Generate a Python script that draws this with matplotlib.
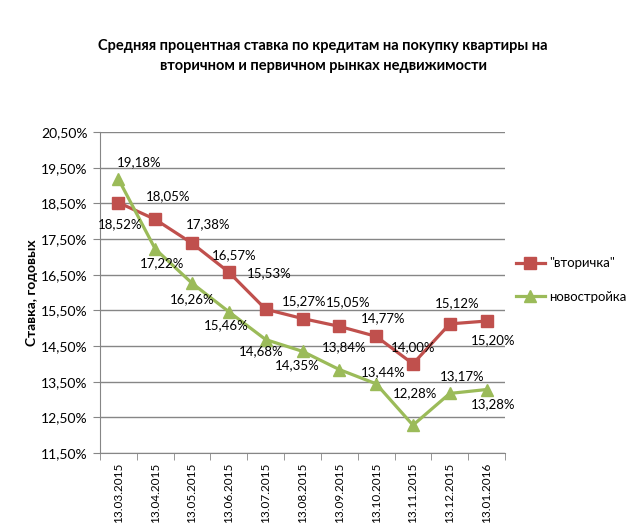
import matplotlib
matplotlib.use("Agg")
import matplotlib.pyplot as plt
from matplotlib.ticker import FuncFormatter, FixedLocator

plt.rcParams['font.family'] = ['Lato', 'DejaVu Sans']

dates = ['13.03.2015', '13.04.2015', '13.05.2015', '13.06.2015', '13.07.2015', '13.08.2015',
         '13.09.2015', '13.10.2015', '13.11.2015', '13.12.2015', '13.01.2016']
secondary = [18.52, 18.05, 17.38, 16.57, 15.53, 15.27, 15.05, 14.77, 14.00, 15.12, 15.20]
new_build = [19.18, 17.22, 16.26, 15.46, 14.68, 14.35, 13.84, 13.44, 12.28, 13.17, 13.28]

# label offsets in pixels (dx, dy)
sec_off = [(2, -22), (13, 23), (16, 19), (5, 17), (4, 36), (2, 17), (9, 24), (7, 18), (0, 17), (7, 21), (7, -19)]
new_off = [(21, 17), (7, -14), (0, -16), (-3, -13), (-5, -12), (-5, -14), (5, 22), (7, 12), (2, 32), (12, 17), (7, -15)]

red = '#C0504D'
green = '#9BBB59'

fig = plt.figure(figsize=(6.36, 5.32), dpi=100)
ax = fig.add_axes([100 / 636, 79 / 532, 405 / 636, 321 / 532])

x = list(range(len(dates)))
l1, = ax.plot(x, secondary, color=red, lw=2.3, marker='s', ms=8, label='"вторичка"', zorder=3)
l2, = ax.plot(x, new_build, color=green, lw=2.3, marker='^', ms=9, label='новостройка', zorder=3)

for xi, v, (dx, dy) in zip(x, secondary, sec_off):
    ax.annotate(f'{v:.2f}%'.replace('.', ','), (xi, v), xytext=(dx, dy), textcoords='offset pixels',
                ha='center', va='center', fontsize=9.5)
for xi, v, (dx, dy) in zip(x, new_build, new_off):
    ax.annotate(f'{v:.2f}%'.replace('.', ','), (xi, v), xytext=(dx, dy), textcoords='offset pixels',
                ha='center', va='center', fontsize=9.5)

ax.set_xlim(-0.5, len(dates) - 0.5)
ax.set_ylim(11.5, 20.5)
ax.set_yticks([11.5 + i for i in range(10)])
ax.yaxis.set_major_formatter(FuncFormatter(lambda v, p: f'{v:.2f}%'.replace('.', ',')))
ax.grid(axis='y', color='#868686', lw=1)
ax.set_axisbelow(True)

ax.set_xticks(x)
ax.set_xticklabels(dates, rotation=90, fontsize=8.5)
ax.tick_params(axis='x', which='major', length=0, pad=7)
ax.xaxis.set_minor_locator(FixedLocator([i - 0.5 for i in range(len(dates) + 1)]))
ax.tick_params(axis='x', which='minor', length=5, color='#868686')
ax.tick_params(axis='y', labelsize=10, length=5, color='#868686', pad=4)

for s in ['top', 'right']:
    ax.spines[s].set_visible(False)
for s in ['left', 'bottom']:
    ax.spines[s].set_color('#868686')

ax.set_ylabel('Ставка, годовых', fontsize=10, fontweight='bold', labelpad=2)

fig.text(0.508, 0.895, 'Средняя процентная ставка по кредитам на покупку квартиры на\nвторичном и первичном рынках недвижимости',
         ha='center', va='center', fontsize=10.5, fontweight='bold', linespacing=1.5)

fig.legend(handles=[l1, l2], loc='center left', bbox_to_anchor=(504 / 636, 1 - 280 / 532),
           frameon=False, fontsize=9.5, handlelength=2.2, labelspacing=1.6, handletextpad=0.3)

fig.savefig('out.png', dpi=100)
